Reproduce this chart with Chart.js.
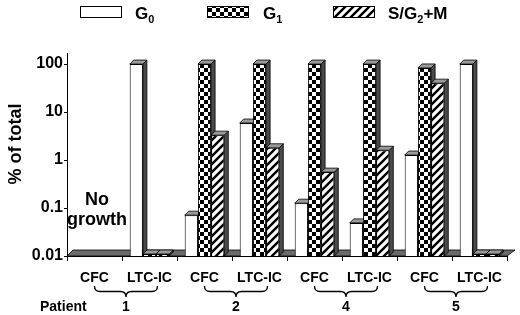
<!DOCTYPE html>
<html>
<head>
<meta charset="utf-8">
<script src="https://cdn.jsdelivr.net/npm/chart.js@4.4.1/dist/chart.umd.min.js"></script>
<style>
    html, body { margin: 0; padding: 0; background: #fff; }
    #wrap { width: 520px; height: 315px; position: relative; }
</style>
</head>
<body>
<div id="wrap"><canvas id="chart"></canvas></div>
<script>
// Kategorien und Werte (log-Skala, % of total)
const categories = ['CFC', 'LTC-IC', 'CFC', 'LTC-IC', 'CFC', 'LTC-IC', 'CFC', 'LTC-IC'];
const patients = ['1', '2', '4', '5'];
const seriesNames = ['G_0', 'G_1', 'S/G_2+M'];
const g0Values = [null, 100, 0.071, 5.9, 0.126, 0.049, 1.27, 100];
const g1Values = [null, 0.011, 100, 100, 100, 100, 83, 0.011];
const sValues = [null, 0.011, 3.3, 1.8, 0.56, 1.6, 40, 0.011];
const yTicks = [0.01, 0.1, 1, 10, 100];

const FONT = "'Liberation Sans', Arial, sans-serif";
const DEPTH = 4;

const canvas = document.getElementById('chart');
const ctx = canvas.getContext('2d');

// Muster: Schachbrett und Schraffur
function makeChecker() {
    const c = document.createElement('canvas');
    c.width = 8; c.height = 8;
    const g = c.getContext('2d');
    g.fillStyle = '#fff'; g.fillRect(0, 0, 8, 8);
    g.fillStyle = '#000';
    g.fillRect(0, 0, 4, 4);
    g.fillRect(4, 4, 4, 4);
    return ctx.createPattern(c, 'repeat');
}

function makeHatch() {
    const c = document.createElement('canvas');
    c.width = 8; c.height = 8;
    const g = c.getContext('2d');
    g.fillStyle = '#fff'; g.fillRect(0, 0, 8, 8);
    g.strokeStyle = '#000';
    g.lineWidth = 2.4;
    g.beginPath();
    g.moveTo(0, 8); g.lineTo(8, 0);
    g.moveTo(-4, 4); g.lineTo(4, -4);
    g.moveTo(4, 12); g.lineTo(12, 4);
    g.stroke();
    return ctx.createPattern(c, 'repeat');
}

const fills = ['#ffffff', makeChecker(), makeHatch()];

// Text mit Tiefstellung, z.B. "G_0"
function drawSubText(c, text, x, y, size) {
    const parts = text.split(/(_.)/);
    let cx = x;
    parts.forEach(p => {
        if (!p) return;
        if (p[0] === '_') {
            c.font = `bold ${Math.round(size * 0.62)}px ${FONT}`;
            c.fillText(p[1], cx, y + size * 0.25);
            cx += c.measureText(p[1]).width;
        } else {
            c.font = `bold ${size}px ${FONT}`;
            c.fillText(p, cx, y);
            cx += c.measureText(p).width;
        }
    });
}

function drawBrace(c, x1, x2, y, h) {
    const xm = (x1 + x2) / 2;
    const r = h / 2;
    c.beginPath();
    c.moveTo(x1, y);
    c.quadraticCurveTo(x1, y + r, x1 + r, y + r);
    c.lineTo(xm - r, y + r);
    c.quadraticCurveTo(xm, y + r, xm, y + h);
    c.quadraticCurveTo(xm, y + r, xm + r, y + r);
    c.lineTo(x2 - r, y + r);
    c.quadraticCurveTo(x2, y + r, x2, y);
    c.stroke();
}

const decor = {
    id: 'decor',
    beforeDatasetsDraw(chart) {
        const c = chart.ctx;
        const a = chart.chartArea;
        c.save();
        // Boden
        c.beginPath();
        c.moveTo(a.left, a.bottom);
        c.lineTo(a.right, a.bottom);
        c.lineTo(a.right + 8, a.bottom - 6);
        c.lineTo(a.left + 6, a.bottom - 6);
        c.closePath();
        c.fillStyle = '#6b6b6b';
        c.fill();
        c.strokeStyle = '#000';
        c.lineWidth = 0.8;
        c.stroke();

        const bars = [];
        chart.data.datasets.forEach((ds, i) => {
            chart.getDatasetMeta(i).data.forEach((el, j) => {
                if (ds.data[j] == null) return;
                bars.push(el.getProps(['x', 'y', 'base', 'width'], true));
            });
        });
        // Seitenflaechen
        bars.forEach(b => {
            const r = b.x + b.width / 2;
            c.beginPath();
            c.moveTo(r, b.y);
            c.lineTo(r + DEPTH, b.y - DEPTH);
            c.lineTo(r + DEPTH, b.base - DEPTH);
            c.lineTo(r, b.base);
            c.closePath();
            c.fillStyle = '#4a4a4a';
            c.fill();
            c.stroke();
        });
        // Deckflaechen
        bars.forEach(b => {
            const l = b.x - b.width / 2;
            const r = b.x + b.width / 2;
            c.beginPath();
            c.moveTo(l, b.y);
            c.lineTo(l + DEPTH, b.y - DEPTH);
            c.lineTo(r + DEPTH, b.y - DEPTH);
            c.lineTo(r, b.y);
            c.closePath();
            c.fillStyle = '#9a9a9a';
            c.fill();
            c.stroke();
        });
        c.restore();
    },
    afterDraw(chart) {
        const c = chart.ctx;
        const x = chart.scales.x;
        c.save();
        c.fillStyle = '#000';
        c.strokeStyle = '#000';

        // Legende
        const boxX = [80, 207, 333];
        const textX = [135, 263, 388];
        seriesNames.forEach((name, i) => {
            c.fillStyle = fills[i];
            c.fillRect(boxX[i], 6, 42, 11);
            c.lineWidth = 1;
            c.strokeRect(boxX[i] + 0.5, 6.5, 41, 11);
            c.fillStyle = '#000';
            c.textBaseline = 'alphabetic';
            c.textAlign = 'left';
            drawSubText(c, name, textX[i], 19, 17);
        });

        // Y-Achsentitel
        c.save();
        c.translate(16, 144);
        c.rotate(-Math.PI / 2);
        c.font = `bold 18px ${FONT}`;
        c.textAlign = 'center';
        c.textBaseline = 'middle';
        c.fillText('% of total', 0, 0);
        c.restore();

        // "No growth"
        c.font = `bold 18px ${FONT}`;
        c.textAlign = 'center';
        c.textBaseline = 'alphabetic';
        c.fillText('No', 97, 205);
        c.fillText('growth', 97, 225);

        // Klammern und Patientennummern
        c.lineWidth = 1.3;
        c.font = `bold 14px ${FONT}`;
        c.textAlign = 'left';
        c.fillText('Patient', 40, 311);
        c.textAlign = 'center';
        patients.forEach((p, i) => {
            const x1 = x.getPixelForValue(2 * i);
            const x2 = x.getPixelForValue(2 * i + 1) + 8;
            drawBrace(c, x1, x2, 286, 11);
            c.fillText(p, (x1 + x2) / 2, 311);
        });
        c.restore();
    }
};

const datasets = [g0Values, g1Values, sValues].map((vals, i) => ({
    label: seriesNames[i],
    data: vals,
    backgroundColor: fills[i],
    borderColor: '#000',
    borderWidth: 1,
    categoryPercentage: 0.72,
    barPercentage: 1,
    clip: false
}));

new Chart(ctx, {
    type: 'bar',
    data: { labels: categories, datasets },
    options: {
        responsive: true,
        maintainAspectRatio: false,
        animation: false,
        layout: { padding: { top: 53, right: 13, left: 0, bottom: 0 } },
        plugins: {
            legend: { display: false },
            tooltip: { enabled: false }
        },
        scales: {
            x: {
                type: 'category',
                offset: true,
                afterFit: (s) => { s.height = 59; },
                grid: { offset: true, drawOnChartArea: false, tickLength: 5, color: '#000' },
                border: { color: '#000', width: 1 },
                ticks: {
                    color: '#000',
                    padding: 9,
                    maxRotation: 0,
                    autoSkip: false,
                    font: { family: FONT, size: 14, weight: 'bold' }
                }
            },
            y: {
                type: 'logarithmic',
                min: 0.01,
                max: 170,
                afterFit: (s) => { s.width = 67; },
                afterBuildTicks: (s) => { s.ticks = yTicks.map(v => ({ value: v })); },
                grid: { drawOnChartArea: false, tickLength: 3, color: '#000' },
                border: { color: '#000', width: 1 },
                ticks: {
                    color: '#000',
                    padding: 1,
                    font: { family: FONT, size: 16, weight: 'bold' },
                    callback: (v) => String(v)
                }
            }
        }
    },
    plugins: [decor]
});
</script>
</body>
</html>
